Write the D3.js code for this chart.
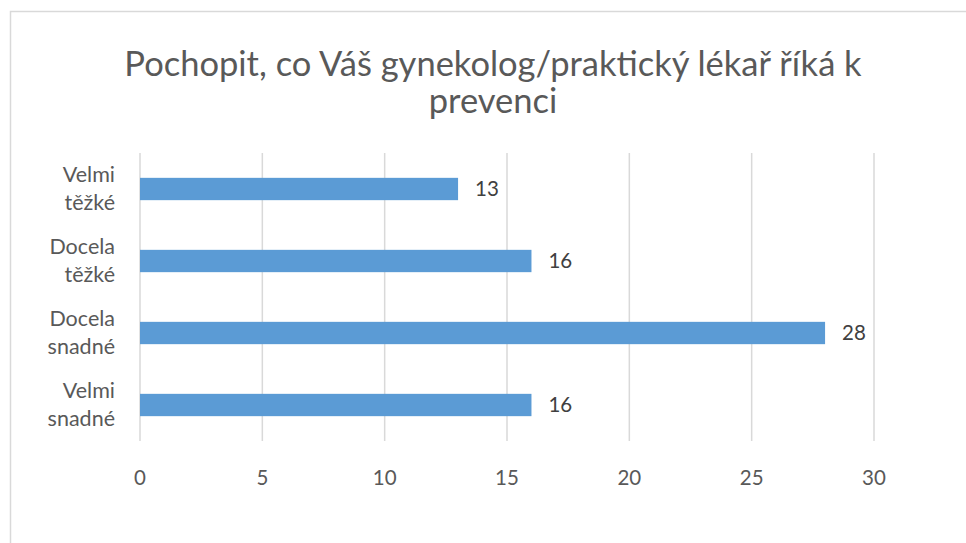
<!DOCTYPE html>
<html>
<head>
<meta charset="utf-8">
<script src="https://cdn.jsdelivr.net/npm/d3@7"></script>
<style>
  body { margin: 0; background: #fff; }
  text { font-family: Lato, "Open Sans", sans-serif; fill: #595959; }
</style>
</head>
<body>
<div id="chart"></div>
<script>
// Data, top to bottom
const categories = [["Velmi", "těžké"], ["Docela", "těžké"], ["Docela", "snadné"], ["Velmi", "snadné"]];
const values = [13, 16, 28, 16];
const ticks = [0, 5, 10, 15, 20, 25, 30];
const titleLines = ["Pochopit, co Váš gynekolog/praktický lékař říká k", "prevenci"];

const width = 966;
const height = 543;
const margin = { top: 153, right: 92, bottom: 102, left: 140 };

const svg = d3.select("#chart").append("svg")
    .attr("width", width)
    .attr("height", height);

// Chart border
svg.append("rect")
    .attr("x", 10.5)
    .attr("y", 11.5)
    .attr("width", width)
    .attr("height", height)
    .attr("fill", "none")
    .attr("stroke", "#d9d9d9")
    .attr("stroke-width", 1.5);

const x = d3.scaleLinear()
    .domain([0, 30])
    .range([margin.left, width - margin.right]);

const y = d3.scaleBand()
    .domain(d3.range(values.length))
    .range([margin.top, height - margin.bottom])
    .paddingInner(0.69)
    .paddingOuter(0.345);

// Gridlines
svg.append("g")
    .selectAll("line")
    .data(ticks)
    .enter()
    .append("line")
    .attr("x1", d => x(d))
    .attr("x2", d => x(d))
    .attr("y1", margin.top)
    .attr("y2", height - margin.bottom)
    .attr("stroke", "#d9d9d9")
    .attr("stroke-width", 1.5);

// Tick labels
svg.append("g")
    .selectAll("text")
    .data(ticks)
    .enter()
    .append("text")
    .attr("x", d => x(d))
    .attr("y", height - margin.bottom + 44)
    .attr("text-anchor", "middle")
    .style("font-size", "20.5px")
    .text(d => d);

// Bars
svg.append("g")
    .selectAll("rect")
    .data(values)
    .enter()
    .append("rect")
    .attr("x", x(0))
    .attr("y", (d, i) => y(i))
    .attr("width", d => x(d) - x(0))
    .attr("height", y.bandwidth())
    .attr("fill", "#5b9bd5");

// Value labels
svg.append("g")
    .selectAll("text")
    .data(values)
    .enter()
    .append("text")
    .attr("x", d => x(d) + 17)
    .attr("y", (d, i) => y(i) + y.bandwidth() / 2)
    .attr("dy", "0.36em")
    .style("font-size", "20.5px")
    .style("fill", "#404040")
    .text(d => d);

// Category labels (two lines)
const cat = svg.append("g")
    .selectAll("text")
    .data(categories)
    .enter()
    .append("text")
    .attr("text-anchor", "end")
    .style("font-size", "21.5px")
    .attr("transform", (d, i) => `translate(115, ${y(i) + y.bandwidth() / 2})`);

cat.append("tspan")
    .attr("x", 0)
    .attr("y", -7)
    .text(d => d[0]);
cat.append("tspan")
    .attr("x", 0)
    .attr("y", 21)
    .text(d => d[1]);

// Title
svg.append("g")
    .selectAll("text")
    .data(titleLines)
    .enter()
    .append("text")
    .attr("x", 493)
    .attr("y", (d, i) => 76 + i * 37)
    .attr("text-anchor", "middle")
    .style("font-size", "34.5px")
    .text(d => d);
</script>
</body>
</html>
